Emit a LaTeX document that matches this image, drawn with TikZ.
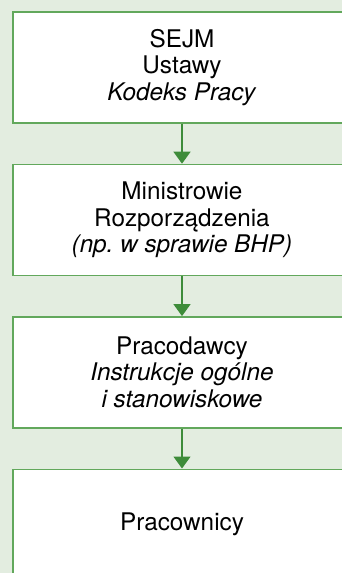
\documentclass[tikz,border=0pt]{standalone}
\usepackage{fontspec}
\setmainfont{TeX Gyre Heros}
\usepackage{tikz}
\usetikzlibrary{
  arrows.meta,
  positioning
}
\frenchspacing
\definecolor{lawback}{RGB}{227,237,224}
\definecolor{lawframe}{RGB}{98,168,92}
\definecolor{lawarrow}{RGB}{62,140,58}
\tikzset{
  lawBox/.style={
    rectangle,
    draw=lawframe,
    fill=white,
    line width=1.4pt,
    minimum width=338pt,
    minimum height=111pt,
    inner sep=0pt,
    align=center,
    font=\fontsize{24.3}{26.5}\selectfont
  },
  lawArrow/.style={
    -{Triangle[width=17pt,length=12pt]},
    line width=1.4pt,
    draw=lawarrow
  }
}

\begin{document}
\begin{tikzpicture}[x=1pt,y=1pt,node distance=40pt]
  \useasboundingbox (0,0) rectangle (342,-573);
  \fill[lawback] (0,0) rectangle (342,-573);
  \clip (0,0) rectangle (342,-573);

  \node[lawBox] (sejm) at (182,-67.5)
    {SEJM\\Ustawy\\\textit{Kodeks Pracy}};

  \node[lawBox, below=of sejm]
    (ministers) {Ministrowie\\Rozporządzenia\\\textit{(np. w sprawie BHP)}};

  \node[lawBox, below=of ministers]
    (employers) {Pracodawcy\\\textit{Instrukcje ogólne}\\\textit{i stanowiskowe}};

  \node[lawBox, below=of employers]
    (workers) {Pracownicy};

  \draw[lawArrow] (sejm) -- (ministers);
  \draw[lawArrow] (ministers) -- (employers);
  \draw[lawArrow] (employers) -- (workers);
\end{tikzpicture}
\end{document}
